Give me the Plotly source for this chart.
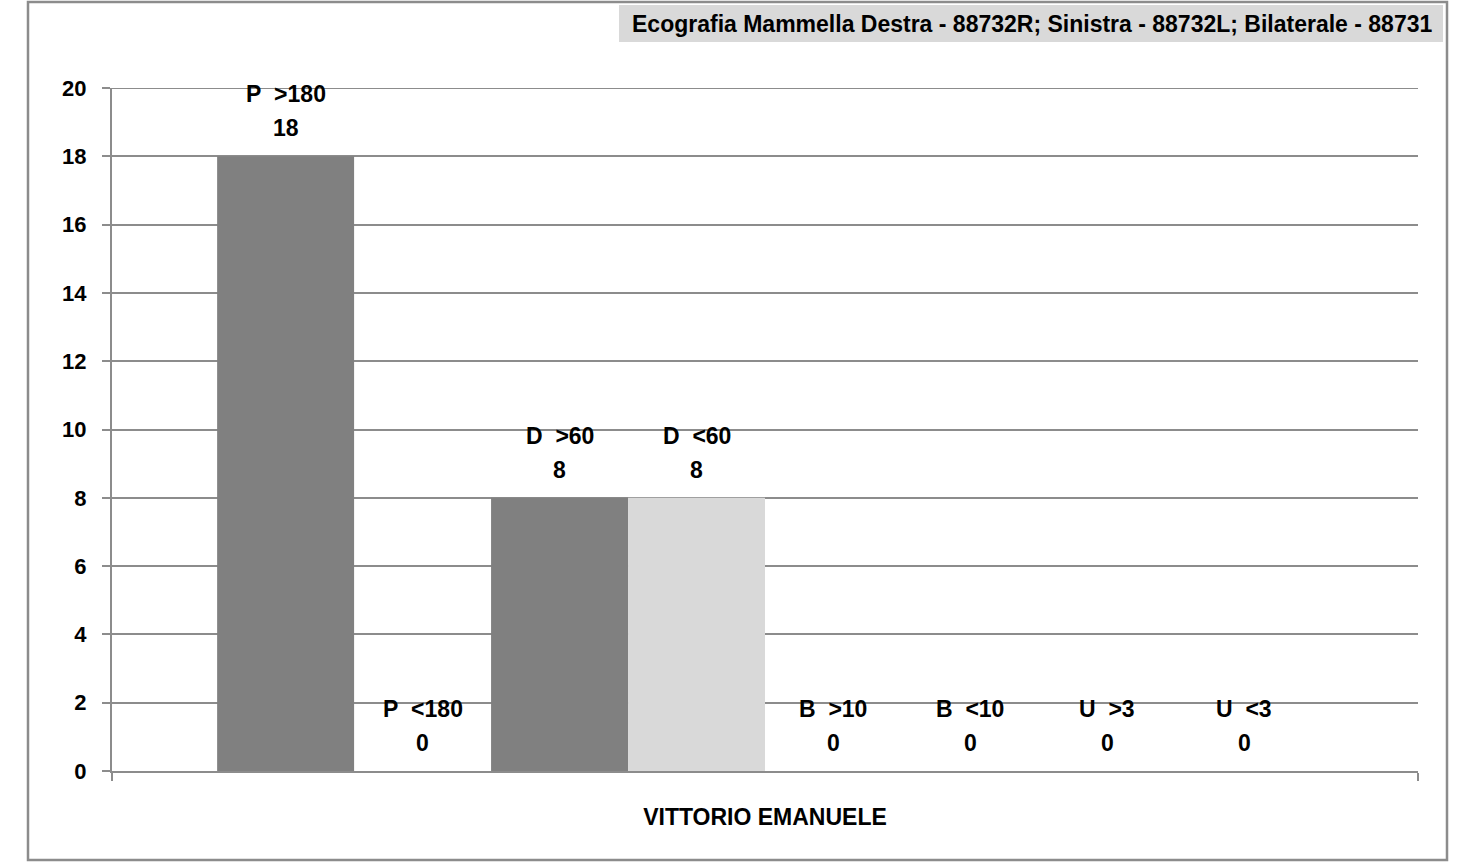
import plotly.graph_objects as go

# Data
category = ["VITTORIO EMANUELE"]
series_names = ["P  >180", "P  <180", "D  >60", "D  <60", "B  >10", "B  <10", "U  >3", "U  <3"]
series_values = [18, 0, 8, 8, 0, 0, 0, 0]
series_colors = ["#808080", "#d9d9d9", "#808080", "#d9d9d9",
                 "#808080", "#d9d9d9", "#808080", "#d9d9d9"]
y_ticks = list(range(0, 21, 2))
chart_title = "Ecografia Mammella Destra - 88732R; Sinistra - 88732L; Bilaterale - 88731"

W, H = 1473, 862
L, R, T, B = 112, 55, 88, 91
plot_w = W - L - R
plot_h = H - T - B

FONT = "Liberation Sans, Arial, sans-serif"
GRID = "#8c8c8c"
BARGAP = 0.161

fig = go.Figure()
for name, val, col in zip(series_names, series_values, series_colors):
    fig.add_trace(go.Bar(x=category, y=[val], name=name,
                         marker=dict(color=col, line=dict(width=0))))


def esc(s):
    return s.replace("<", "&lt;").replace(">", "&gt;").replace(" ", "\u00a0")


# Two-line labels above each bar: series name, then value
n = len(series_names)
bw = (1 - BARGAP) / n
annotations = []
for i, (name, val) in enumerate(zip(series_names, series_values)):
    xc = -0.5 + BARGAP / 2 + (i + 0.5) * bw
    annotations.append(dict(x=xc, y=val, xref="x", yref="y", text="<b>%s</b>" % esc(name),
                            showarrow=False, yanchor="middle", yshift=62,
                            font=dict(family=FONT, size=23, color="black")))
    annotations.append(dict(x=xc, y=val, xref="x", yref="y", text="<b>%d</b>" % val,
                            showarrow=False, yanchor="middle", yshift=28,
                            font=dict(family=FONT, size=23, color="black")))


def px_x(p):
    return (p - L) / plot_w


def px_y(p):
    return (H - B - p) / plot_h


shapes = [
    # outer chart frame
    dict(type="rect", xref="paper", yref="paper",
         x0=px_x(28), x1=px_x(1447), y0=px_y(860), y1=px_y(2),
         line=dict(color="#8c8c8c", width=2.5), fillcolor="rgba(0,0,0,0)", layer="below"),
    # header box
    dict(type="rect", xref="paper", yref="paper",
         x0=px_x(619), x1=px_x(1443), y0=px_y(42), y1=px_y(5),
         line=dict(width=0), fillcolor="#d9d9d9", layer="below"),
    # top gridline at the end of the value range
    dict(type="line", xref="paper", yref="y", x0=0, x1=1, y0=y_ticks[-1], y1=y_ticks[-1],
         line=dict(color=GRID, width=2), layer="below"),
]

annotations.append(dict(xref="paper", yref="paper", x=px_x(1032), y=px_y(23.5),
                        text="<b>%s</b>" % chart_title, showarrow=False,
                        xanchor="center", yanchor="middle",
                        font=dict(family=FONT, size=23, color="black")))

fig.update_layout(
    width=W, height=H,
    margin=dict(l=L, r=R, t=T, b=B, pad=0),
    paper_bgcolor="white", plot_bgcolor="white",
    barmode="group", bargap=BARGAP, bargroupgap=0,
    showlegend=False,
    shapes=shapes, annotations=annotations,
    font=dict(family=FONT, color="black"),
)
fig.update_xaxes(type="category", range=[-0.5, 0.5], showgrid=False,
                 showline=True, linecolor=GRID, linewidth=2,
                 ticks="outside", tickson="boundaries", ticklen=8, tickcolor=GRID, tickwidth=2,
                 tickfont=dict(family=FONT, size=23, color="black"),
                 ticklabelstandoff=24, tickprefix="<b>", ticksuffix="</b>")
fig.update_yaxes(range=[0, 20], tickvals=y_ticks, ticktext=["<b>%d</b>" % v for v in y_ticks],
                 showgrid=True, gridcolor=GRID, gridwidth=2,
                 showline=True, linecolor=GRID, linewidth=2, zeroline=False,
                 ticks="outside", ticklen=8, tickcolor=GRID, tickwidth=2,
                 tickfont=dict(family=FONT, size=22, color="black"),
                 ticklabelstandoff=11)

fig.write_html("out.html")
